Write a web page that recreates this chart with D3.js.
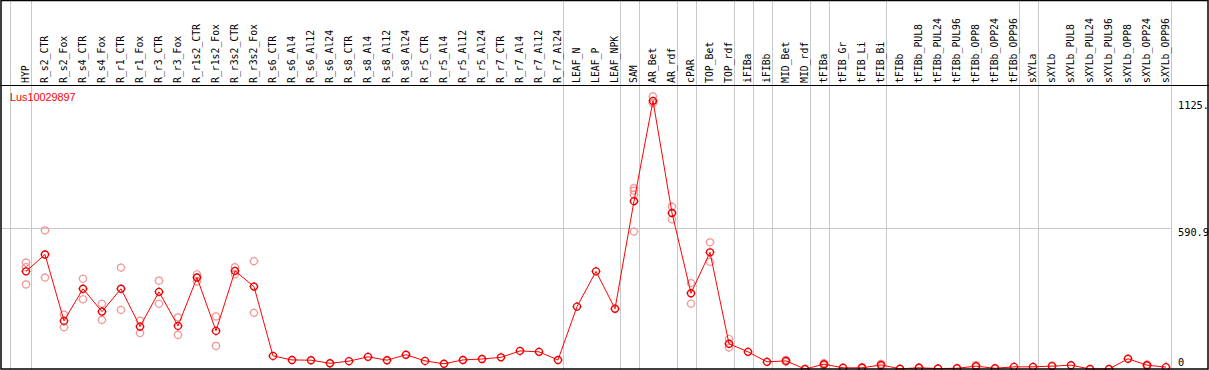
<!DOCTYPE html>
<html>
<head>
<meta charset="utf-8">
<script src="https://cdn.jsdelivr.net/npm/d3@7"></script>
<style>
    body { margin: 0; background: white; }
    svg { display: block; }
</style>
</head>
<body>
<svg></svg>
<script>
var geneName = "Lus10029897";

var samples = ["HYP", "R_s2_CTR", "R_s2_Fox", "R_s4_CTR", "R_s4_Fox", "R_r1_CTR", "R_r1_Fox",
    "R_r3_CTR", "R_r3_Fox", "R_r1s2_CTR", "R_r1s2_Fox", "R_r3s2_CTR", "R_r3s2_Fox",
    "R_s6_CTR", "R_s6_Al4", "R_s6_Al12", "R_s6_Al24", "R_s8_CTR", "R_s8_Al4", "R_s8_Al12", "R_s8_Al24",
    "R_r5_CTR", "R_r5_Al4", "R_r5_Al12", "R_r5_Al24", "R_r7_CTR", "R_r7_Al4", "R_r7_Al12", "R_r7_Al24",
    "LEAF_N", "LEAF_P", "LEAF_NPK", "SAM", "AR_Bet", "AR_rdf", "cPAR", "TOP_Bet", "TOP_rdf",
    "iFIBa", "iFIBb", "MID_Bet", "MID_rdf", "tFIBa", "tFIB_Gr", "tFIB_Li", "tFIB_Bi",
    "tFIBb", "tFIBb_PUL8", "tFIBb_PUL24", "tFIBb_PUL96", "tFIBb_OPP8", "tFIBb_OPP24", "tFIBb_OPP96",
    "sXYLa", "sXYLb", "sXYLb_PUL8", "sXYLb_PUL24", "sXYLb_PUL96", "sXYLb_OPP8", "sXYLb_OPP24", "sXYLb_OPP96"];

var means = [410, 481, 202, 337, 241, 337, 178, 324, 181, 384, 160, 412, 346,
    55, 38, 37, 24, 33, 51, 37, 60,
    34, 22, 38, 42, 49, 76, 72, 38,
    262, 410, 253, 705, 1126, 655, 318, 490, 106,
    72, 30, 34, 0, 20, 5, 5, 17,
    1, 5, 2, 3, 12, 3, 9,
    9, 12, 16, 0, 0, 43, 16, 8];

var replicates = [[447, 428, 355], [582, 384], [228, 175], [379, 293], [274, 206], [426, 248], [203, 151],
    [371, 274], [217, 143], [398, 368], [221, 97], [428, 398], [453, 236],
    [], [], [], [], [], [], [], [],
    [], [], [], [], [], [], [], [],
    [], [], [], [760, 749, 732, 577], [1145, 1117, 1117], [682, 629], [361, 274], [532, 450], [126, 90],
    [], [], [38, 30], [], [25, 15], [], [8], [22, 12],
    [], [7], [], [], [16, 8], [], [],
    [], [14], [], [], [], [], [19, 13], []];

// group separators sit just after these sample indexes
var groupEnds = [-1.1, 0, 28, 31, 32, 34, 35, 37, 38, 39, 41, 42, 45, 52, 53, 60];

var yTicks = [0, 590.9, 1125];
var yTickLabels = ["0", "590.9", "1125."];
var gridValues = [590.9];

var screen = {width: 1209, height: 370};
var header = 85.5;

var svg = d3.select("svg")
    .attr("width", screen.width)
    .attr("height", screen.height);

var xScale = d3.scaleLinear()
    .domain([0, samples.length - 1])
    .range([26, 1166]);

var yScale = d3.scaleLinear()
    .domain([0, 590.9])
    .range([369, 228.3]);

var gridRight = xScale(60.25);

// grey grid
svg.append("g")
    .selectAll("line")
    .data(groupEnds)
    .enter()
    .append("line")
    .attr("x1", function(d){return Math.round(xScale(d + 0.25)) + 0.5})
    .attr("x2", function(d){return Math.round(xScale(d + 0.25)) + 0.5})
    .attr("y1", 0)
    .attr("y2", screen.height)
    .attr("stroke", "#c8c8c8")
    .attr("stroke-width", 1);

svg.append("g")
    .selectAll("line")
    .data(gridValues)
    .enter()
    .append("line")
    .attr("x1", 1)
    .attr("x2", gridRight)
    .attr("y1", function(d){return Math.round(yScale(d)) + 0.5})
    .attr("y2", function(d){return Math.round(yScale(d)) + 0.5})
    .attr("stroke", "#c8c8c8")
    .attr("stroke-width", 1);

// sample labels
svg.append("g")
    .selectAll("text")
    .data(samples)
    .enter()
    .append("text")
    .attr("transform", function(d, i)
    {
        return "translate(" + (xScale(i) - 1) + "," + (header - 2.5) + ") rotate(-90)";
    })
    .attr("dominant-baseline", "central")
    .attr("font-family", "'DejaVu Sans Mono', monospace")
    .attr("font-size", "9.8px")
    .attr("fill", "black")
    .text(function(d){return d});

// value labels on the right
svg.append("g")
    .selectAll("text")
    .data(yTicks)
    .enter()
    .append("text")
    .attr("x", 1178)
    .attr("y", function(d){return Math.min(yScale(d) + 3.4, 361.7)})
    .attr("dominant-baseline", "central")
    .attr("font-family", "'DejaVu Sans Mono', monospace")
    .attr("font-size", "10.3px")
    .attr("fill", "black")
    .text(function(d, i){return yTickLabels[i]});

svg.append("text")
    .attr("x", 10)
    .attr("y", 101)
    .attr("font-family", "'Liberation Sans', Arial, sans-serif")
    .attr("font-size", "10.8px")
    .attr("fill", "#ff0000")
    .text(geneName);

// marker: ring with tiny ticks
var markerPath = function(cx, cy)
{
    var r = 3.5;
    var c = "M" + (cx - r) + "," + cy + "a" + r + "," + r + " 0 1,0 " + (2 * r) + ",0" +
        "a" + r + "," + r + " 0 1,0 " + (-2 * r) + ",0";
    var t = "M" + cx + "," + (cy - r - 1) + "v1M" + cx + "," + (cy + r) + "v1" +
        "M" + (cx - r - 1) + "," + cy + "h1M" + (cx + r) + "," + cy + "h1";
    return c + t;
}

var plot = svg.append("g")
    .attr("id", "plot");

var reps = [];
replicates.forEach(function(list, i)
{
    list.forEach(function(v){reps.push({i: i, v: v})});
});

plot.append("g")
    .selectAll("path")
    .data(reps)
    .enter()
    .append("path")
    .attr("d", function(d){return markerPath(xScale(d.i), yScale(d.v))})
    .attr("fill", "none")
    .attr("stroke", "#f09898")
    .attr("stroke-width", 1.2);

var lineGenerator = d3.line()
    .x(function(num, index){return xScale(index)})
    .y(function(num){return yScale(num)});

plot.append("path")
    .datum(means)
    .attr("d", lineGenerator)
    .attr("fill", "none")
    .attr("stroke", "#ff0000")
    .attr("stroke-width", 1);

plot.append("g")
    .selectAll("path")
    .data(means)
    .enter()
    .append("path")
    .attr("d", function(num, index){return markerPath(xScale(index), yScale(num))})
    .attr("fill", "none")
    .attr("stroke", "#ee0000")
    .attr("stroke-width", 1.4);

// frame
svg.append("line")
    .attr("x1", 0).attr("x2", screen.width)
    .attr("y1", header).attr("y2", header)
    .attr("stroke", "black").attr("stroke-width", 1);

svg.append("rect")
    .attr("x", 1)
    .attr("y", 0.5)
    .attr("width", screen.width - 2)
    .attr("height", 368.5)
    .attr("fill", "none")
    .attr("stroke", "black")
    .attr("stroke-width", 1.5);
</script>
</body>
</html>
